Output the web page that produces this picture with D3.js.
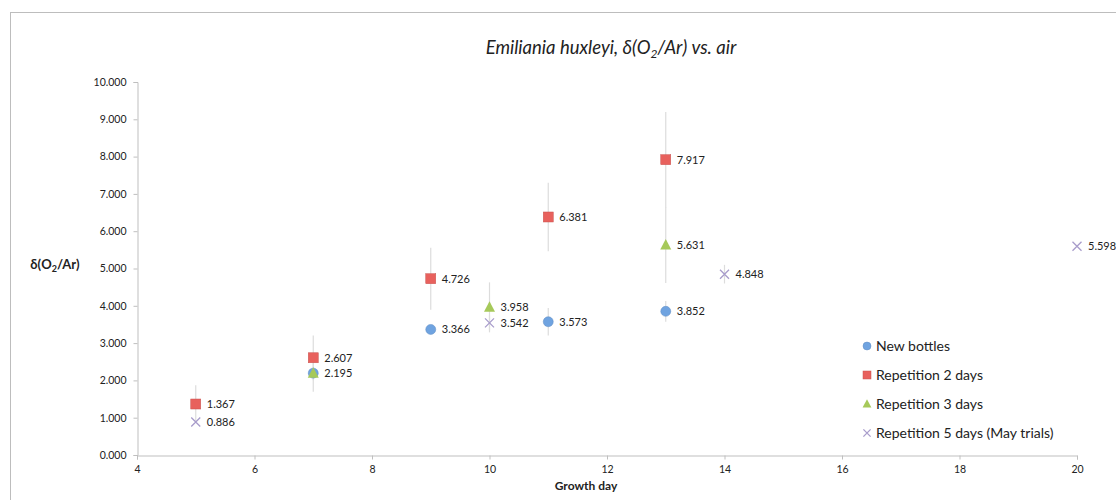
<!DOCTYPE html>
<html><head><meta charset="utf-8">
<script src="https://cdn.jsdelivr.net/npm/d3@7"></script>
<style>body{margin:0;background:#fff;} svg{display:block;font-family:Lato, "Open Sans", sans-serif;}</style>
</head><body>
<svg id="c" width="1116" height="500"></svg>
<script>
const seriesNames = ["New bottles", "Repetition 2 days", "Repetition 3 days", "Repetition 5 days (May trials)"];
const newBottlesX = [7, 9, 11, 13];
const newBottlesY = [2.195, 3.366, 3.573, 3.852];
const newBottlesErr = [0, 0, 0.37, 0.28];
const rep2X = [5, 7, 9, 11, 13];
const rep2Y = [1.367, 2.607, 4.726, 6.381, 7.917];
const rep2Err = [0.5, 0.6, 0.83, 0.92, 1.28];
const rep3X = [7, 10, 13];
const rep3Y = [2.195, 3.958, 5.631];
const rep3Err = [0.5, 0.67, 1.02];
const rep5X = [5, 10, 14, 20];
const rep5Y = [0.886, 3.542, 4.848, 5.598];
const rep5Err = [0, 0.2, 0.25, 0];
const xTicks = [4, 6, 8, 10, 12, 14, 16, 18, 20];
const yTicks = [0, 1, 2, 3, 4, 5, 6, 7, 8, 9, 10];

const svg = d3.select("#c");
const W = 1116, H = 500;
svg.append("rect").attr("x", 10.5).attr("y", 12.5).attr("width", W).attr("height", H)
  .attr("fill", "none").attr("stroke", "#bdbdbd").attr("stroke-width", 1);

const x = d3.scaleLinear().domain([4, 20]).range([137, 1077]);
const y = d3.scaleLinear().domain([0, 10]).range([455, 82]);

const axisColor = "#bfbfbf";
const xAxis = svg.append("g").attr("transform", "translate(0,455.5)")
  .call(d3.axisBottom(x).tickValues(xTicks).tickSize(4).tickPadding(6).tickFormat(d3.format("d")));
const yAxis = svg.append("g").attr("transform", "translate(137.5,0)")
  .call(d3.axisLeft(y).tickValues(yTicks).tickSize(4).tickPadding(7).tickFormat(d3.format(".3f")));
[xAxis, yAxis].forEach(a => {
  a.selectAll("path,line").attr("stroke", axisColor);
  a.selectAll("text").attr("fill", "#222").style("font-size", "10.5px").style("font-family", "Lato, sans-serif");
});

const t = svg.append("text").attr("x", 611).attr("y", 54).attr("text-anchor", "middle")
  .style("font-size", "18.5px").style("font-style", "italic").attr("fill", "#222");
t.append("tspan").text("Emiliania huxleyi, δ(O");
t.append("tspan").attr("dy", 4).style("font-size", "12px").text("2");
t.append("tspan").attr("dy", -4).text("/Ar) vs. air");

const yl = svg.append("text").attr("x", 55).attr("y", 269).attr("text-anchor", "middle")
  .style("font-size", "13px").style("font-weight", "bold").attr("fill", "#222");
yl.append("tspan").text("δ(O");
yl.append("tspan").attr("dy", 3).style("font-size", "9px").text("2");
yl.append("tspan").attr("dy", -3).text("/Ar)");
svg.append("text").attr("x", 586).attr("y", 490).attr("text-anchor", "middle")
  .style("font-size", "12px").style("font-weight", "bold").attr("fill", "#222").text("Growth day");

const series = [
  {name: seriesNames[0], xs: newBottlesX, ys: newBottlesY, err: newBottlesErr, color: "#6fa3e0", shape: "circle"},
  {name: seriesNames[1], xs: rep2X, ys: rep2Y, err: rep2Err, color: "#e8615d", shape: "square"},
  {name: seriesNames[2], xs: rep3X, ys: rep3Y, err: rep3Err, color: "#a6c95a", shape: "triangle"},
  {name: seriesNames[3], xs: rep5X, ys: rep5Y, err: rep5Err, color: "#a89ccb", shape: "x"},
];

function drawMarker(g, shape, color, cx, cy, s) {
  if (shape === "circle") g.append("circle").attr("cx", cx).attr("cy", cy).attr("r", 5 * s).attr("fill", color).attr("stroke", d3.color(color).darker(0.4)).attr("stroke-width", 0.5);
  else if (shape === "square") g.append("rect").attr("x", cx - 5 * s).attr("y", cy - 5 * s).attr("width", 10 * s).attr("height", 10 * s).attr("fill", color).attr("stroke", d3.color(color).darker(0.4)).attr("stroke-width", 0.5);
  else if (shape === "triangle") g.append("path").attr("d", `M${cx},${cy - 6 * s}L${cx + 5.5 * s},${cy + 4.5 * s}L${cx - 5.5 * s},${cy + 4.5 * s}Z`).attr("fill", color);
  else g.append("path").attr("d", `M${cx - 4.5 * s},${cy - 4.5 * s}L${cx + 4.5 * s},${cy + 4.5 * s}M${cx + 4.5 * s},${cy - 4.5 * s}L${cx - 4.5 * s},${cy + 4.5 * s}`).attr("stroke", color).attr("stroke-width", 1.3).attr("fill", "none");
}

const eb = svg.append("g");
series.forEach(s => {
  s.xs.forEach((xv, i) => {
    if (s.err[i] > 0) eb.append("line").attr("x1", x(xv)).attr("x2", x(xv))
      .attr("y1", y(s.ys[i] - s.err[i])).attr("y2", y(s.ys[i] + s.err[i]))
      .attr("stroke", "#dcdcdc").attr("stroke-width", 1.2);
  });
});
const mk = svg.append("g");
const lb = svg.append("g");
const seen = new Set();
series.forEach(s => {
  s.xs.forEach((xv, i) => {
    drawMarker(mk, s.shape, s.color, x(xv), y(s.ys[i]), 1);
    const key = xv + ":" + s.ys[i];
    if (seen.has(key)) return;
    seen.add(key);
    lb.append("text").attr("x", x(xv) + 11).attr("y", y(s.ys[i]) + 4)
      .style("font-size", "11px").attr("fill", "#222").text(d3.format(".3f")(s.ys[i]));
  });
});

const lg = svg.append("g");
series.forEach((s, i) => {
  const ly = 346 + i * 29;
  drawMarker(lg, s.shape, s.color, 867, ly, 0.8);
  lg.append("text").attr("x", 876).attr("y", ly + 5).style("font-size", "14px").attr("fill", "#222").text(s.name);
});
</script>
</body></html>
